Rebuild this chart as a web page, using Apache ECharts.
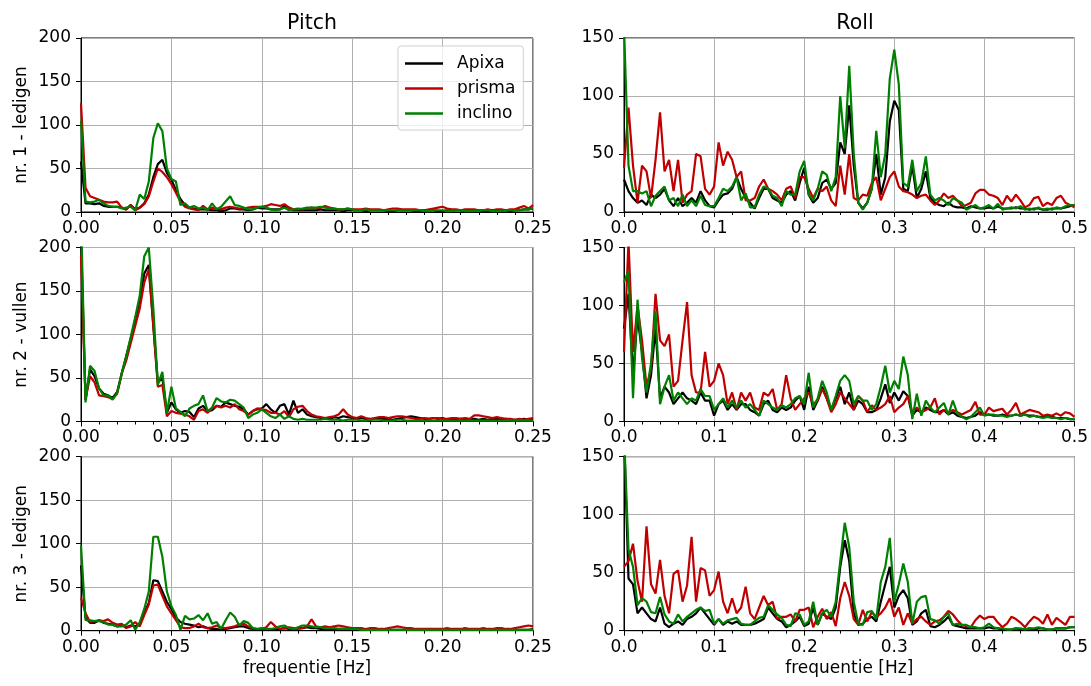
<!DOCTYPE html>
<html><head><meta charset="utf-8">
<script src="https://cdn.jsdelivr.net/npm/echarts@6/dist/echarts.min.js"></script>
<style>html,body{margin:0;padding:0;background:#fff}#c{width:1091px;height:686px}</style>
</head><body><div id="c"></div>
<script>
const seriesNames = ['Apixa', 'prisma', 'inclino'];
const rowNames = ['nr. 1 - ledigen', 'nr. 2 - vullen', 'nr. 3 - ledigen'];
const colTitles = ['Pitch', 'Roll'];
const xAxisName = 'frequentie [Hz]';
const pitchStep = 0.0025;
const rollStep = 0.005;
const pitchTicks = [0, 0.05, 0.10, 0.15, 0.20, 0.25];
const rollTicks = [0, 0.1, 0.2, 0.3, 0.4, 0.5];

// Pitch, row 1
const p1_apixa = [58,10,10,9,10,7,6,6,6,5,3,8,3,5,10,20,40,55,60,45,37,25,15,8,5,4,3,3,3,2,2,1,2,4,4,3,3,2,3,5,4,4,3,3,3,7,5,2,2,2,2,
 2,2,3,2,2,2,2,1,2,2,2,2,1,2,2,2,2,1,1,2,2,2,2,1,1,2,2,2,1,1,2,2,2,2,1,2,2,2,1,1,2,2,2,2,1,2,2,3,3,4];
const p1_prisma = [125,28,18,16,14,12,11,11,12,5,3,8,2,5,9,18,35,50,46,40,32,22,12,6,4,3,2,7,3,5,4,3,5,6,5,4,4,5,6,6,6,7,9,8,7,9,5,3,4,3,4,
 5,4,5,7,5,4,3,3,4,3,3,3,4,3,3,3,2,3,4,4,3,3,3,3,2,2,3,4,5,6,4,3,3,2,3,3,3,2,2,3,2,3,3,2,3,3,5,7,4,8];
const p1_inclino = [105,12,11,12,14,10,7,6,6,4,5,6,2,20,15,35,85,102,93,50,38,35,8,10,5,7,4,5,2,10,3,6,12,18,8,7,5,3,3,5,6,5,3,2,3,5,2,3,3,4,5,
 5,5,6,5,4,4,3,3,4,3,2,2,3,2,2,2,2,2,2,2,2,2,2,2,2,1,1,2,2,2,1,1,2,2,1,1,1,2,2,2,1,1,1,2,2,2,2,3,3,4];
// Pitch, row 2
const p2_apixa = [210,25,60,52,38,32,30,27,34,55,75,95,117,140,170,180,110,45,50,10,22,14,10,12,11,5,15,18,12,13,18,17,22,20,18,17,14,8,12,14,15,20,14,10,18,20,8,24,10,14,8,
 6,5,4,4,3,5,4,6,5,4,3,4,3,2,3,4,3,3,2,3,4,5,6,5,4,3,3,4,3,4,2,3,2,3,3,2,3,2,3,2,3,3,2,3,2,2,2,3,2,3];
const p2_prisma = [190,25,52,45,30,29,28,26,32,55,70,90,110,130,160,175,110,40,42,6,12,10,9,8,6,2,12,14,10,15,18,16,18,16,20,14,12,8,12,15,14,13,10,10,8,12,5,14,17,18,12,
 8,6,5,4,5,6,8,14,8,5,4,6,4,3,4,5,5,4,5,6,6,5,4,3,3,4,3,4,4,3,3,4,4,3,4,3,7,7,6,5,4,5,4,3,3,2,3,2,3,4];
const p2_inclino = [240,22,64,58,38,30,30,25,33,55,75,97,120,145,190,200,130,42,57,10,40,15,11,6,15,18,20,30,12,16,27,23,22,25,24,20,16,4,8,10,14,10,6,4,8,3,6,3,2,3,2,
 2,2,2,3,2,2,2,1,2,2,2,1,1,2,2,2,1,1,1,2,2,1,1,1,1,1,1,1,1,1,1,1,1,1,1,1,1,1,1,1,1,1,1,1,1,1,1,1,1,1];
// Pitch, row 3
const p3_apixa = [75,15,9,9,12,9,8,7,5,6,4,6,5,8,20,32,58,57,45,33,25,15,10,8,7,6,4,5,3,2,2,1,2,3,4,5,5,3,2,1,2,2,1,2,2,3,2,2,3,3,4,
 3,3,2,2,2,2,2,2,1,1,1,1,1,1,1,1,1,1,1,1,1,1,1,1,1,1,1,1,1,1,1,1,1,1,1,1,1,1,1,1,1,1,1,1,1,1,1,1,1,2];
const p3_prisma = [38,20,10,11,12,11,13,9,7,8,3,5,10,5,18,30,52,53,40,28,20,12,4,3,3,5,8,4,3,4,6,3,3,4,5,7,8,5,3,2,2,4,10,5,2,3,4,3,2,3,5,
 13,5,4,5,4,5,6,5,4,3,3,3,2,3,3,2,2,3,4,5,4,3,3,2,2,2,2,2,2,2,3,2,2,2,3,2,2,2,3,2,2,3,3,2,2,3,4,5,6,5];
const p3_inclino = [98,12,12,11,11,10,7,7,5,5,7,12,1,10,25,45,108,108,85,45,28,18,1,17,13,14,18,12,20,8,10,2,12,21,16,6,11,9,3,2,3,2,2,3,5,6,3,2,4,6,6,
 5,4,4,3,3,3,2,2,2,2,2,1,1,1,1,1,1,1,1,1,1,1,1,1,1,1,1,1,1,1,1,1,1,1,1,1,1,1,1,1,1,1,1,1,1,1,1,1,1,1];

// Roll, row 1
const r1_apixa = [28,18,12,8,10,6,15,12,15,20,10,5,12,5,8,12,8,18,10,5,4,10,15,16,20,30,20,12,8,3,12,20,20,12,10,8,15,18,10,25,38,15,8,12,25,28,20,25,60,
 50,92,40,8,3,8,20,50,15,30,78,96,88,20,18,40,12,20,35,12,8,6,5,8,5,4,4,3,5,4,3,3,4,3,5,3,3,3,4,3,3,2,3,3,2,2,3,3,3,4,5,6];
const r1_prisma = [38,90,40,8,40,35,12,45,86,35,45,18,45,8,15,18,50,48,20,15,22,60,40,52,45,30,35,10,10,12,22,28,20,18,15,10,20,22,12,30,30,20,12,20,18,22,10,5,40,
 15,50,12,10,15,14,25,30,10,20,30,35,22,18,17,15,12,14,15,10,6,10,16,12,14,10,5,6,8,16,19,19,15,14,12,6,14,9,15,10,4,6,12,13,5,8,6,12,14,8,6,4];
const r1_inclino = [160,40,18,18,16,18,5,14,18,22,10,12,5,15,5,10,5,14,6,5,5,12,20,18,22,30,10,16,4,4,15,22,20,14,12,5,18,15,15,35,44,15,10,20,35,32,18,30,100,
 55,126,50,8,2,8,20,70,30,50,115,140,110,25,22,45,18,25,48,15,10,12,10,6,12,10,8,2,4,6,3,4,6,3,7,2,3,4,3,5,2,3,2,4,2,3,2,4,3,5,6,6];
// Roll, row 2
const r2_apixa = [80,110,40,90,60,20,40,80,20,30,25,15,20,25,20,18,15,25,18,18,5,15,18,10,15,10,15,15,10,8,5,15,18,10,8,12,10,12,18,22,10,30,10,18,30,20,10,20,30,15,
 25,10,18,15,8,8,10,20,32,16,25,18,26,22,5,10,8,12,10,8,8,10,6,8,5,4,3,4,5,8,6,6,5,5,6,5,5,6,5,6,5,5,4,4,5,4,3,3,3,2,2];
const r2_prisma = [60,155,60,100,70,30,45,110,70,65,75,30,35,70,103,40,25,25,60,30,35,50,40,15,25,10,25,18,25,12,10,25,22,28,10,15,40,20,10,15,20,25,15,18,28,20,8,15,25,20,
 15,10,22,18,8,14,10,12,15,22,8,12,15,22,8,12,8,10,12,20,6,10,8,10,8,6,8,10,17,6,6,12,9,10,11,6,10,16,6,8,10,9,8,5,6,5,7,5,8,7,4];
const r2_inclino = [120,130,20,105,55,25,50,95,15,30,40,18,25,20,15,20,18,28,22,22,10,15,20,12,18,12,18,12,15,10,5,18,15,12,10,14,12,15,20,22,15,42,12,20,35,25,10,22,35,40,
 35,15,22,18,18,10,15,30,48,25,35,28,56,40,2,24,5,18,12,8,12,16,6,18,7,4,2,4,8,12,5,6,6,5,5,4,5,6,5,6,4,5,4,3,4,3,3,2,3,2,2];
// Roll, row 3
const r3_apixa = [170,45,40,15,20,15,10,8,20,6,3,6,8,5,10,12,15,20,15,10,5,10,5,8,6,8,5,5,5,6,8,10,20,15,10,8,3,5,8,12,4,6,20,5,15,12,10,20,55,
 78,60,15,5,6,10,12,8,25,40,55,20,30,35,28,5,8,15,18,4,3,5,8,12,5,4,3,2,2,2,2,2,3,2,2,1,1,1,2,1,1,2,1,2,2,1,1,2,2,2,3,3];
const r3_prisma = [55,60,75,43,25,90,40,32,61,30,15,49,52,25,39,81,25,54,52,30,35,51,25,15,28,15,20,38,15,10,20,30,22,25,10,12,12,14,8,18,18,20,3,12,19,10,16,4,28,
 42,30,10,5,18,8,16,12,15,20,28,12,20,5,15,6,10,12,8,5,8,9,12,17,14,9,5,4,3,9,13,10,12,12,7,3,6,12,10,7,3,8,12,10,6,14,5,11,8,5,12,12];
const r3_inclino = [170,70,55,22,28,25,16,15,29,14,8,6,14,8,12,15,18,20,17,18,6,10,6,9,10,11,6,5,5,8,11,12,22,18,14,11,5,4,15,14,5,8,25,5,15,18,12,25,60,
 93,72,25,6,5,16,17,10,42,55,80,25,40,58,42,6,25,29,30,10,9,6,12,15,5,6,5,5,3,3,2,3,6,3,2,2,1,1,2,2,1,2,2,3,2,1,1,2,2,2,3,3];

const colors = ['#000000', '#c00000', '#008000'];
const FONT = 'DejaVu Sans';
const FS = 17;
const panels = [
  {col:0,row:0,step:pitchStep,data:[p1_apixa,p1_prisma,p1_inclino]},
  {col:1,row:0,step:rollStep,data:[r1_apixa,r1_prisma,r1_inclino]},
  {col:0,row:1,step:pitchStep,data:[p2_apixa,p2_prisma,p2_inclino]},
  {col:1,row:1,step:rollStep,data:[r2_apixa,r2_prisma,r2_inclino]},
  {col:0,row:2,step:pitchStep,data:[p3_apixa,p3_prisma,p3_inclino]},
  {col:1,row:2,step:rollStep,data:[r3_apixa,r3_prisma,r3_inclino]}
];
const gridLefts = [81, 624];
const gridTops = [38, 247.5, 456.7];
const grids = [], xAxes = [], yAxes = [], series = [];
panels.forEach((p, k) => {
  const pitch = p.col === 0;
  grids.push({left: gridLefts[p.col], top: gridTops[p.row], width: 452, height: 174,
    show: true, borderColor: '#000', borderWidth: 1, containLabel: false});
  const ticks = pitch ? pitchTicks : rollTicks;
  xAxes.push({gridIndex: k, type: 'value', min: ticks[0], max: ticks[ticks.length-1],
    interval: ticks[1] - ticks[0],
    name: p.row === 2 ? xAxisName : '', nameLocation: 'middle', nameGap: 29,
    nameTextStyle: {fontFamily: FONT, fontSize: FS, color: '#000'},
    axisLine: {lineStyle: {color: '#000', width: 1}},
    axisTick: {show: true, length: 5, lineStyle: {color: '#000'}},
    minorTick: {show: true, splitNumber: 5, length: 3, lineStyle: {color: '#000'}},
    splitLine: {show: true, lineStyle: {color: '#b0b0b0', width: 1}},
    axisLabel: {fontFamily: FONT, fontSize: FS, color: '#000', margin: 8,
      formatter: v => v.toFixed(pitch ? 2 : 1)}});
  yAxes.push({gridIndex: k, type: 'value', min: 0, max: pitch ? 200 : 150, interval: 50,
    name: pitch ? rowNames[p.row] : '', nameLocation: 'middle', nameGap: 51,
    nameTextStyle: {fontFamily: FONT, fontSize: FS, color: '#000'},
    axisLine: {show: true, lineStyle: {color: '#000', width: 1}},
    axisTick: {show: true, length: 5, lineStyle: {color: '#000'}},
    splitLine: {show: true, lineStyle: {color: '#b0b0b0', width: 1}},
    axisLabel: {fontFamily: FONT, fontSize: FS, color: '#000', margin: 10}});
  p.data.forEach((vals, s) => {
    series.push({type: 'line', name: seriesNames[s], xAxisIndex: k, yAxisIndex: k,
      data: vals.map((v, i) => [i * p.step, v]), symbol: 'none', clip: true,
      lineStyle: {color: colors[s], width: 2.2}, itemStyle: {color: colors[s]},
      animation: false});
  });
});
const chart = echarts.init(document.getElementById('c'), null, {renderer: 'canvas'});
chart.setOption({
  animation: false,
  backgroundColor: '#fff',
  title: [
    {text: colTitles[0], left: 307, top: 8, textAlign: 'center', textStyle: {fontFamily: FONT, fontSize: 20.5, fontWeight: 'normal', color: '#000'}},
    {text: colTitles[1], left: 850, top: 8, textAlign: 'center', textStyle: {fontFamily: FONT, fontSize: 20.5, fontWeight: 'normal', color: '#000'}}
  ],
  legend: {data: seriesNames, orient: 'vertical', left: 398, top: 46, padding: [9, 8, 8, 7],
    icon: 'rect', itemWidth: 38, itemHeight: 2.5, itemGap: 8,
    backgroundColor: 'rgba(255,255,255,0.8)', borderColor: '#d0d0d0', borderWidth: 1, borderRadius: 3,
    textStyle: {fontFamily: FONT, fontSize: FS, color: '#000', padding: [0, 0, 0, 9]}},
  grid: grids, xAxis: xAxes, yAxis: yAxes, series: series
});
</script></body></html>
